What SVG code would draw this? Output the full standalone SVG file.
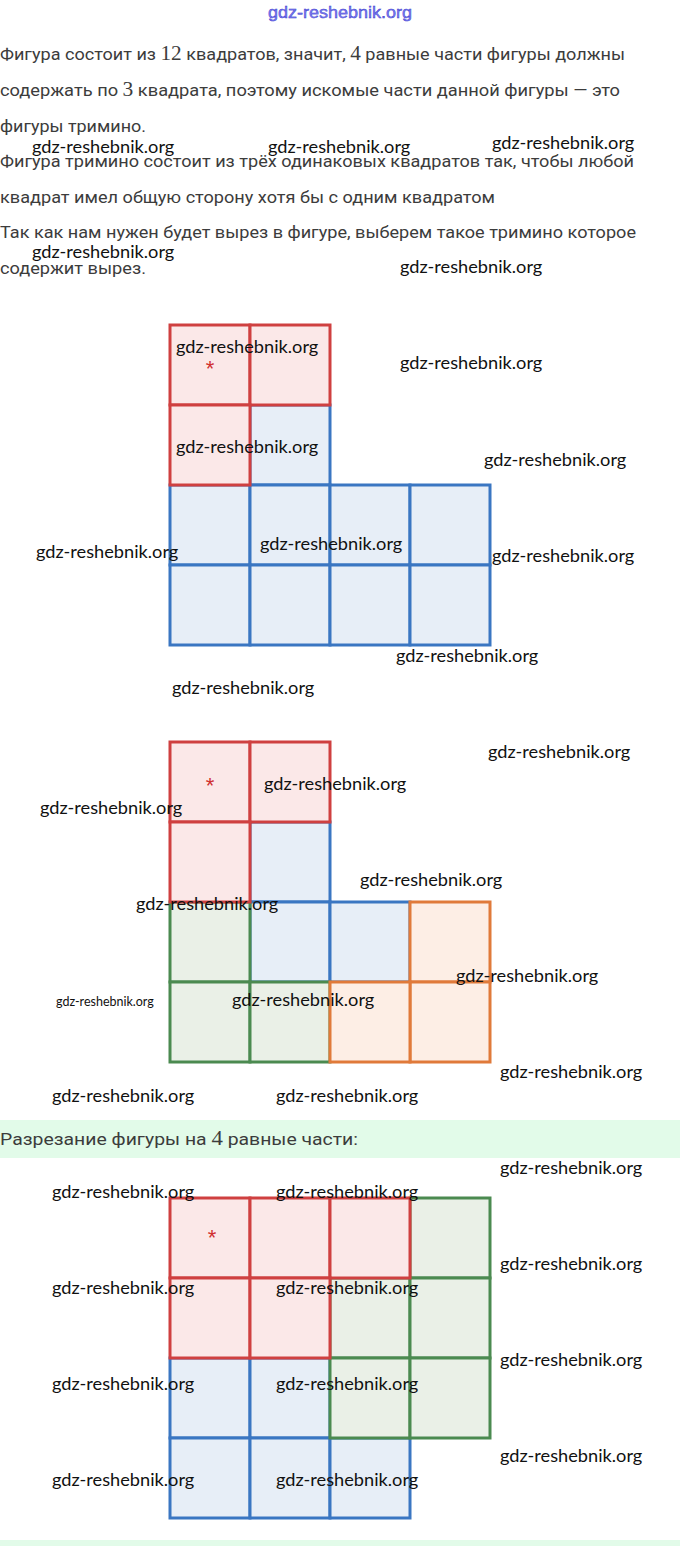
<svg xmlns="http://www.w3.org/2000/svg" width="680" height="1546" viewBox="0 0 680 1546">
<style>
.body{font-family:Roboto,"Liberation Sans",sans-serif;font-size:17px;fill:#3c3c3c}
.num{font-family:"Liberation Serif",serif;font-size:20px}
.wm{font-family:Lato,"Open Sans",sans-serif;font-size:18.2px;fill:#111}
.r{fill:#fbe8e8;stroke:#cf4040;stroke-width:3}
.b{fill:#e7eef7;stroke:#3a76c2;stroke-width:3}
.g{fill:#eaf0e7;stroke:#4b8a50;stroke-width:3}
.o{fill:#fdeee5;stroke:#e07a3a;stroke-width:3}
.star{font-family:"Liberation Sans",sans-serif;font-size:22px;fill:#d03030;text-anchor:middle}
</style>
<rect width="680" height="1546" fill="#fff"/>
<text x="340" y="18" text-anchor="middle" font-family="Liberation Sans,sans-serif" font-size="16" fill="#7d7df0" stroke="#3333cc" stroke-width="0.4" textLength="144" lengthAdjust="spacingAndGlyphs">gdz-reshebnik.org</text>

<g id="text">
<text class="body" x="0" y="60" textLength="625" lengthAdjust="spacingAndGlyphs">Фигура состоит из <tspan class="num">12</tspan> квадратов, значит, <tspan class="num">4</tspan> равные части фигуры должны</text>
<text class="body" x="0" y="96" textLength="620" lengthAdjust="spacingAndGlyphs">содержать по <tspan class="num">3</tspan> квадрата, поэтому искомые части данной фигуры — это</text>
<text class="body" x="0" y="132" textLength="146" lengthAdjust="spacingAndGlyphs">фигуры тримино.</text>
<text class="body" x="0" y="167" textLength="634" lengthAdjust="spacingAndGlyphs">Фигура тримино состоит из трёх одинаковых квадратов так, чтобы любой</text>
<text class="body" x="0" y="203" textLength="495" lengthAdjust="spacingAndGlyphs">квадрат имел общую сторону хотя бы с одним квадратом</text>
<text class="body" x="0" y="238" textLength="636" lengthAdjust="spacingAndGlyphs">Так как нам нужен будет вырез в фигуре, выберем такое тримино которое</text>
<text class="body" x="0" y="274" textLength="146" lengthAdjust="spacingAndGlyphs">содержит вырез.</text>
</g>

<g id="fig1">
<g id="fig1-blue">
<rect class="b" x="250" y="405" width="80" height="80"/>
<rect class="b" x="170" y="485" width="80" height="80"/>
<rect class="b" x="250" y="485" width="80" height="80"/>
<rect class="b" x="330" y="485" width="80" height="80"/>
<rect class="b" x="410" y="485" width="80" height="80"/>
<rect class="b" x="170" y="565" width="80" height="80"/>
<rect class="b" x="250" y="565" width="80" height="80"/>
<rect class="b" x="330" y="565" width="80" height="80"/>
<rect class="b" x="410" y="565" width="80" height="80"/>
</g>
<g id="fig1-red">
<rect class="r" x="170" y="325" width="80" height="80"/>
<rect class="r" x="250" y="325" width="80" height="80"/>
<rect class="r" x="170" y="405" width="80" height="80"/>
</g>
<text class="star" x="210" y="376">*</text>
</g>

<g id="fig2">
<g id="fig2-blue">
<rect class="b" x="250" y="822" width="80" height="80"/>
<rect class="b" x="250" y="902" width="80" height="80"/>
<rect class="b" x="330" y="902" width="80" height="80"/>
</g>
<g id="fig2-green">
<rect class="g" x="170" y="902" width="80" height="80"/>
<rect class="g" x="170" y="982" width="80" height="80"/>
<rect class="g" x="250" y="982" width="80" height="80"/>
</g>
<g id="fig2-orange">
<rect class="o" x="410" y="902" width="80" height="80"/>
<rect class="o" x="410" y="982" width="80" height="80"/>
<rect class="o" x="330" y="982" width="80" height="80"/>
</g>
<g id="fig2-red">
<rect class="r" x="170" y="742" width="80" height="80"/>
<rect class="r" x="250" y="742" width="80" height="80"/>
<rect class="r" x="170" y="822" width="80" height="80"/>
</g>
<text class="star" x="210" y="793">*</text>
</g>

<rect x="0" y="1120" width="680" height="38" fill="#e2fbe9"/>
<text class="body" x="0" y="1145" textLength="358" lengthAdjust="spacingAndGlyphs">Разрезание фигуры на <tspan class="num">4</tspan> равные части:</text>

<g id="fig3">
<g id="fig3-blue">
<rect class="b" x="170" y="1358" width="80" height="80"/>
<rect class="b" x="250" y="1358" width="80" height="80"/>
<rect class="b" x="170" y="1438" width="80" height="80"/>
<rect class="b" x="250" y="1438" width="80" height="80"/>
<rect class="b" x="330" y="1438" width="80" height="80"/>
</g>
<g id="fig3-green">
<rect class="g" x="410" y="1198" width="80" height="80"/>
<rect class="g" x="330" y="1278" width="80" height="80"/>
<rect class="g" x="410" y="1278" width="80" height="80"/>
<rect class="g" x="330" y="1358" width="80" height="80"/>
<rect class="g" x="410" y="1358" width="80" height="80"/>
</g>
<g id="fig3-red">
<rect class="r" x="170" y="1198" width="80" height="80"/>
<rect class="r" x="250" y="1198" width="80" height="80"/>
<rect class="r" x="330" y="1198" width="80" height="80"/>
<rect class="r" x="170" y="1278" width="80" height="80"/>
<rect class="r" x="250" y="1278" width="80" height="80"/>
</g>
<text class="star" x="212" y="1245">*</text>
</g>

<rect x="0" y="1540" width="680" height="6" fill="#e2fbe9"/>

<g id="watermarks">
<text class="wm" x="32" y="153">gdz-reshebnik.org</text>
<text class="wm" x="268" y="153">gdz-reshebnik.org</text>
<text class="wm" x="492" y="149">gdz-reshebnik.org</text>
<text class="wm" x="32" y="258">gdz-reshebnik.org</text>
<text class="wm" x="400" y="273">gdz-reshebnik.org</text>
<text class="wm" x="176" y="353">gdz-reshebnik.org</text>
<text class="wm" x="400" y="369">gdz-reshebnik.org</text>
<text class="wm" x="176" y="453">gdz-reshebnik.org</text>
<text class="wm" x="484" y="466">gdz-reshebnik.org</text>
<text class="wm" x="36" y="558">gdz-reshebnik.org</text>
<text class="wm" x="260" y="550">gdz-reshebnik.org</text>
<text class="wm" x="492" y="562">gdz-reshebnik.org</text>
<text class="wm" x="396" y="662">gdz-reshebnik.org</text>
<text class="wm" x="172" y="694">gdz-reshebnik.org</text>
<text class="wm" x="488" y="758">gdz-reshebnik.org</text>
<text class="wm" x="264" y="790">gdz-reshebnik.org</text>
<text class="wm" x="40" y="814">gdz-reshebnik.org</text>
<text class="wm" x="360" y="886">gdz-reshebnik.org</text>
<text class="wm" x="136" y="910">gdz-reshebnik.org</text>
<text class="wm" x="456" y="982">gdz-reshebnik.org</text>
<text class="wm" x="56" y="1006" style="font-size:12.5px">gdz-reshebnik.org</text>
<text class="wm" x="232" y="1006">gdz-reshebnik.org</text>
<text class="wm" x="500" y="1078">gdz-reshebnik.org</text>
<text class="wm" x="52" y="1102">gdz-reshebnik.org</text>
<text class="wm" x="276" y="1102">gdz-reshebnik.org</text>
<text class="wm" x="500" y="1174">gdz-reshebnik.org</text>
<text class="wm" x="52" y="1198">gdz-reshebnik.org</text>
<text class="wm" x="276" y="1198">gdz-reshebnik.org</text>
<text class="wm" x="500" y="1270">gdz-reshebnik.org</text>
<text class="wm" x="52" y="1294">gdz-reshebnik.org</text>
<text class="wm" x="276" y="1294">gdz-reshebnik.org</text>
<text class="wm" x="500" y="1366">gdz-reshebnik.org</text>
<text class="wm" x="52" y="1390">gdz-reshebnik.org</text>
<text class="wm" x="276" y="1390">gdz-reshebnik.org</text>
<text class="wm" x="500" y="1462">gdz-reshebnik.org</text>
<text class="wm" x="52" y="1486">gdz-reshebnik.org</text>
<text class="wm" x="276" y="1486">gdz-reshebnik.org</text>
</g>
</svg>
